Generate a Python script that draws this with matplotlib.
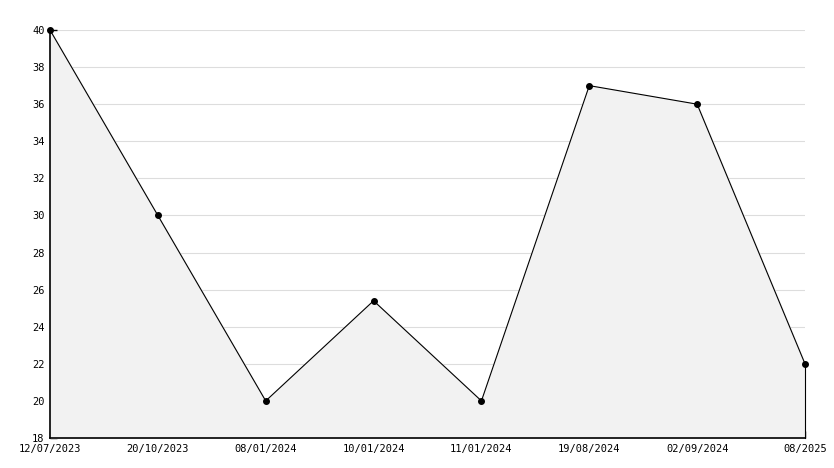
import numpy as np
import matplotlib.pyplot as plt
from matplotlib.ticker import MultipleLocator

dates = ['12/07/2023', '20/10/2023', '08/01/2024', '10/01/2024',
         '11/01/2024', '19/08/2024', '02/09/2024', '08/2025']
values = [40, 30, 20, 25.4, 20, 37, 36, 22]

x = np.arange(len(values))

fig = plt.figure(figsize=(8.34, 4.68), dpi=100)
ax = fig.add_axes([50 / 834, 30 / 468, 755 / 834, 408 / 468])

ax.fill_between(x, values, 18, color='#f2f2f2', zorder=1)
ax.plot([x[-1], x[-1]], [18, values[-1]], color='black', lw=0.8, zorder=2,
        clip_on=False)
ax.plot(x, values, color='black', lw=0.8, marker='o', markersize=4, zorder=3,
        clip_on=False)

ax.set_xlim(0, len(values) - 1)
ax.set_ylim(18, 40)
ax.yaxis.set_major_locator(MultipleLocator(2))
ax.yaxis.set_minor_locator(MultipleLocator(1))
ax.set_xticks(x)
ax.set_xticklabels(dates)
ax.grid(axis='y', color='#dddddd', lw=0.8, zorder=0)
ax.set_axisbelow(True)

for s in ['top', 'right']:
    ax.spines[s].set_visible(False)
for s in ['left', 'bottom']:
    ax.spines[s].set_linewidth(1.2)

ax.tick_params(axis='both', which='major', direction='in', length=5, width=1,
               labelsize=7.5, pad=4)
ax.tick_params(axis='y', which='minor', direction='in', length=4, width=1)
for lbl in ax.get_xticklabels() + ax.get_yticklabels():
    lbl.set_family('DejaVu Sans Mono')
# the bottom y label sits a little above the axis in the reference
ax.get_yticklabels()[0].set_verticalalignment('bottom')

fig.savefig('out.png', dpi=100)
